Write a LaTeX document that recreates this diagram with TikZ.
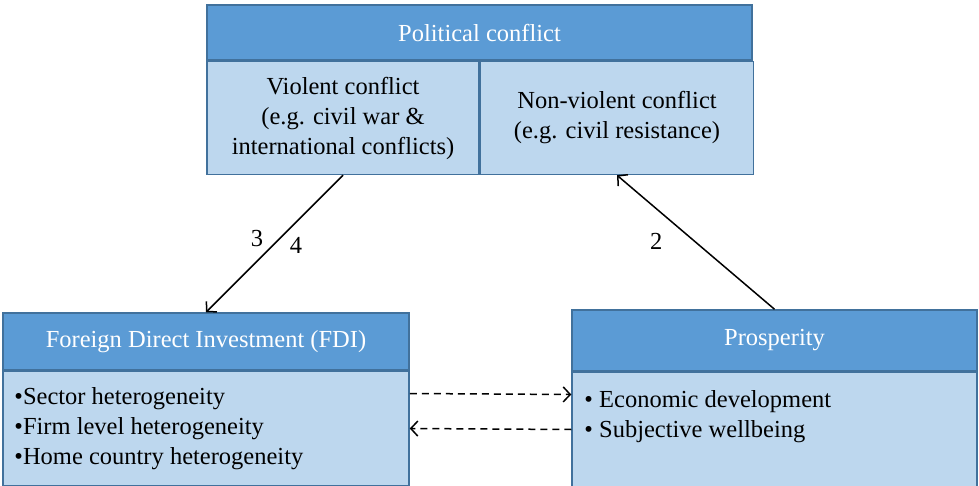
\documentclass[tikz,border=0pt]{standalone}
\usepackage{fontspec}
\setmainfont{Liberation Serif}
\usetikzlibrary{positioning,arrows.meta,calc}
\definecolor{headblue}{HTML}{5B9BD5}
\definecolor{bodyblue}{HTML}{BDD7EE}
\definecolor{edgeblue}{HTML}{41719C}

\begin{document}
\begin{tikzpicture}[x=1pt,y=-1pt,>={Straight Barb[length=7pt,width=15pt]}]
      \tikzset{
          every node/.style={font=\fontsize{24.5}{30}\selectfont},
          header/.style={rectangle,draw=edgeblue, fill=headblue, text=white, line width=1.5pt, inner sep=0pt, text centered},
          cell/.style={rectangle,draw=edgeblue, fill=bodyblue, line width=1.5pt, inner sep=0pt, align=center},
          list/.style={inner sep=0pt, align=left},
          numlabel/.style={inner sep=0pt},
          myarrow/.style={draw, ->, line width=1.5pt},
          dasharrow/.style={draw, ->, dash pattern=on 7pt off 5pt, line width=1.5pt},
      }
      \useasboundingbox (0,0) rectangle (979,486);

      \node[header, minimum width=545pt, minimum height=55pt] (PolHead) at (479.5,32.5) {Political conflict};
      \node[cell, minimum width=272pt, minimum height=113pt, below right=0pt and 0pt of PolHead.south west] (Violent) {Violent conflict\\(e.g. civil war \&\\international conflicts)};
      \node[cell, minimum width=273pt, minimum height=113pt, right=0pt of Violent.east] (NonViolent) {Non-violent conflict\\(e.g. civil resistance)};

      \node[header, minimum width=406pt, minimum height=57pt] (FDIHead) at (206,341.5) {Foreign Direct Investment (FDI)};
      \node[cell, minimum width=406pt, minimum height=114pt, below=0pt of FDIHead.south] (FDIBody) {};
      \node[list, right=12pt of FDIBody.west] (FDIList) {•Sector heterogeneity\\•Firm level heterogeneity\\•Home country heterogeneity};

      \node[header, minimum width=405pt, minimum height=61pt] (ProsHead) at (774.5,340.5) {Prosperity};
      \node[cell, minimum width=405pt, minimum height=114pt, below=0pt of ProsHead.south] (ProsBody) {};
      \node[list, anchor=west] (ProsList) at ([xshift=13pt,yshift=13pt]ProsBody.west) {• Economic development\\• Subjective wellbeing};

      \path[myarrow] (Violent.south) -- (FDIHead.north)
          node[numlabel, pos=0.46, left=16pt] (Lab3) {3}
          node[numlabel, pos=0.51, right=16pt] (Lab4) {4};
      \path[myarrow] (ProsHead.north) -- (NonViolent.south)
          node[numlabel, pos=0.51, left=31pt] (Lab2) {2};
      \path[dasharrow] ([yshift=35pt]FDIBody.east) -- ([yshift=35pt]ProsBody.west);
      \path[dasharrow] (ProsBody.west) -- (FDIBody.east);

\end{tikzpicture}
\end{document}
